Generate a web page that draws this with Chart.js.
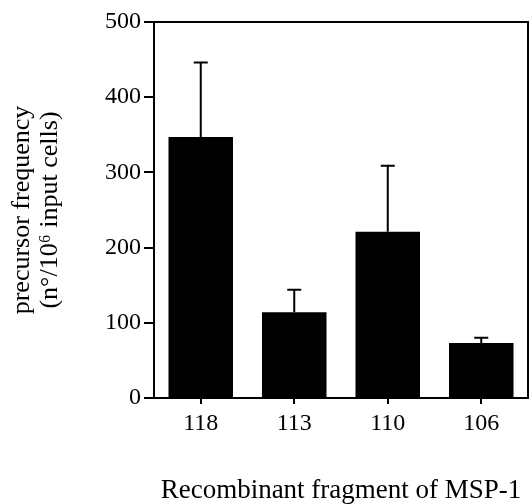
<!DOCTYPE html>
<html><head><meta charset="utf-8">
<script src="https://cdn.jsdelivr.net/npm/chart.js@4"></script>
<style>html,body{margin:0;padding:0;background:#fff}#w{width:530px;height:504px}</style>
</head><body><div id="w"><canvas id="c" width="530" height="504"></canvas></div>
<script>
const categories = ["118", "113", "110", "106"];
const values = [347, 114, 221, 73];
const errors = [99, 30, 88, 7];
const yTicks = [0, 100, 200, 300, 400, 500];
const yTitle = ["precursor frequency", "(n°/10⁶ input cells)"];
const xTitle = "Recombinant fragment of MSP-1";

const FONT = "'Liberation Serif', 'Times New Roman', serif";

const errPlugin = {
  id: 'errbars',
  afterDatasetsDraw(chart) {
    const ctx = chart.ctx, ys = chart.scales.y, meta = chart.getDatasetMeta(0);
    ctx.save();
    ctx.strokeStyle = '#000'; ctx.lineWidth = 2;
    meta.data.forEach((bar, i) => {
      const x = bar.x;
      const y0 = ys.getPixelForValue(values[i]);
      const y1 = ys.getPixelForValue(values[i] + errors[i]);
      ctx.beginPath(); ctx.moveTo(x, y0); ctx.lineTo(x, y1);
      ctx.moveTo(x - 7, y1); ctx.lineTo(x + 7, y1); ctx.stroke();
    });
    const a = chart.chartArea;
    ctx.lineWidth = 2;
    ctx.beginPath(); ctx.moveTo(a.left, a.top); ctx.lineTo(a.right, a.top); ctx.lineTo(a.right, a.bottom); ctx.stroke();
    ctx.restore();
  }
};

new Chart(document.getElementById('c'), {
  type: 'bar',
  data: { labels: categories, datasets: [{ data: values, backgroundColor: '#000', borderWidth: 0, categoryPercentage: 1, barPercentage: 0.69 }] },
  options: {
    responsive: false, animation: false,
    layout: { padding: { top: 22, right: 2, left: 0, bottom: 0 } },
    plugins: { legend: { display: false }, tooltip: { enabled: false } },
    scales: {
      x: {
        grid: { display: true, drawOnChartArea: false, drawTicks: true, tickLength: 6, color: '#000', lineWidth: 2, offset: false },
        border: { display: true, color: '#000', width: 2 },
        ticks: { color: '#000', font: { family: FONT, size: 24 }, padding: 5, maxRotation: 0 },
        title: { display: true, text: xTitle, color: '#000', font: { family: FONT, size: 27, lineHeight: 1.0 }, padding: { top: 30, bottom: 0 } },
        afterFit(s) { s.height = 106; }
      },
      y: {
        min: 0, max: 500,
        afterBuildTicks(s) { s.ticks = yTicks.map(v => ({ value: v })); },
        grid: { display: true, drawOnChartArea: false, drawTicks: true, tickLength: 10, color: '#000', lineWidth: 2 },
        border: { display: true, color: '#000', width: 2 },
        ticks: { color: '#000', font: { family: FONT, size: 24 }, padding: 3 },
        title: { display: true, text: yTitle, color: '#000', font: { family: FONT, size: 26, lineHeight: 1.05 }, padding: { top: 9, bottom: 8 } },
        afterFit(s) { s.width = 154; }
      }
    }
  },
  plugins: [errPlugin]
});
</script></body></html>
